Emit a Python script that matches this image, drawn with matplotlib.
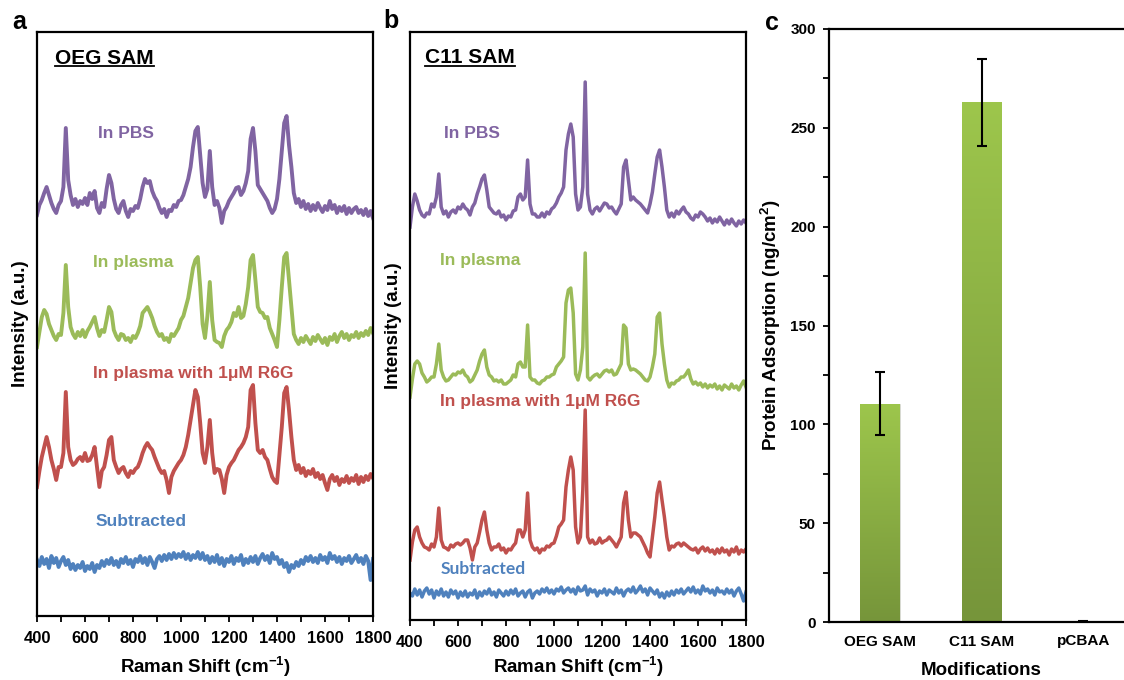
import numpy as np
import matplotlib
matplotlib.use('Agg')
import matplotlib.pyplot as plt
from matplotlib.ticker import MultipleLocator, NullLocator
from matplotlib.lines import Line2D
from matplotlib.colors import LinearSegmentedColormap

plt.rcParams['font.family'] = ['Liberation Sans', 'DejaVu Sans']
plt.rcParams['font.weight'] = 'bold'
plt.rcParams['mathtext.fontset'] = 'custom'
plt.rcParams['mathtext.rm'] = 'Liberation Sans:bold'
plt.rcParams['mathtext.it'] = 'Liberation Sans:bold'
plt.rcParams['mathtext.bf'] = 'Liberation Sans:bold'
plt.rcParams['mathtext.default'] = 'rm'

# ---------------- data ----------------
wavenumber_start, wavenumber_stop, wavenumber_step = 400, 1800, 10

# Panel a (OEG SAM), heights above each trace's baseline (a.u.)
oeg_pbs = [
    -2, 8, 13, 20, 26, 18, 10, 4, 0, 8,
    12, 26, 85, 33, 18, 8, 14, 6, 12, 9,
    15, 8, 20, 14, 22, 5, 0, 10, 6, 24,
    38, 30, 14, 4, 0, 8, 12, 2, -4, 4,
    2, 7, 5, 14, 26, 34, 30, 32, 22, 16,
    12, 5, 0, 4, -4, 3, 2, 8, 6, 12,
    13, 18, 26, 34, 46, 66, 82, 86, 58, 30,
    16, 24, 62, 26, 8, 12, 5, -10, 2, 6,
    12, 16, 20, 25, 26, 18, 22, 30, 42, 74,
    85, 62, 28, 24, 20, 16, 12, 5, 0, 4,
    14, 34, 62, 90, 97, 68, 46, 20, 10, 14,
    6, 12, 4, 9, 2, 8, 3, 10, 5, 1,
    7, 3, 12, 4, 8, 0, 6, 2, 7, -1,
    5, 0, 4, 6, 0, 3, -2, 4, -3, 2,
    -5]
oeg_plasma = [
    -7, 8, 23, 30, 26, 16, 10, 4, 0, 6,
    5, 27, 75, 33, 13, 6, 2, 8, 4, 10,
    3, 9, 13, 18, 23, 12, 4, 10, 8, 20,
    33, 28, 10, 4, 0, 6, 5, 0, 2, -2,
    4, 2, 7, 14, 27, 30, 33, 28, 22, 14,
    8, 4, 6, 0, 2, -2, 6, 4, 8, 12,
    20, 24, 33, 42, 57, 72, 80, 83, 53, 16,
    2, 24, 58, 20, 0, -2, -3, -7, 4, 10,
    13, 18, 27, 24, 33, 22, 24, 36, 53, 80,
    85, 60, 33, 28, 27, 22, 23, 12, 6, 0,
    -7, 20, 53, 83, 87, 60, 33, 6, 0, -4,
    2, -2, 4, 0, -4, 3, -1, 5, 1, -3,
    2, -5, 3, 0, 6, -2, 4, 8, 2, 6,
    0, 5, 3, 8, 2, 7, 4, 9, 5, 12,
    7]
oeg_r6g = [
    -14, 2, 16, 26, 36, 26, 13, 4, -7, 6,
    6, 20, 81, 26, 13, 8, 10, 14, 16, 12,
    20, 12, 13, 18, 26, 6, -14, 2, 6, 18,
    33, 36, 13, 6, 0, 4, 6, 0, -4, 2,
    0, 4, 6, 12, 20, 26, 30, 26, 23, 16,
    10, 4, 0, 2, -7, -20, -4, 2, 6, 10,
    13, 18, 26, 38, 53, 68, 83, 76, 50, 20,
    10, 26, 53, 20, 0, 4, 3, -6, -20, -2,
    6, 10, 13, 18, 23, 26, 30, 36, 46, 83,
    88, 50, 23, 20, 23, 16, 13, 4, -4, -8,
    -10, 18, 46, 80, 86, 63, 36, 13, 3, 8,
    0, 5, -3, 2, -1, 4, -4, 0, -6, -2,
    -10, -17, -6, -2, -8, -4, -12, -6, -9, -3,
    -10, -5, -8, -2, -11, -4, -9, -3, -7, -1,
    -5]
oeg_subtracted = [
    2, -4, 5, -2, 3, -6, 6, -1, 4, -5,
    1, 5, -3, 2, -7, -2, -8, -3, -6, 0,
    -9, -4, -7, -1, -10, -3, -6, 1, -4, 2,
    -2, 4, -3, 1, -5, 3, -1, 5, -2, 2,
    -5, 3, 0, 6, -1, 4, -3, 5, 0, -6,
    3, 6, 1, 7, 2, 8, 3, 9, 4, 8,
    5, 10, 3, 8, 2, 7, 4, 10, 3, 9,
    2, 6, -1, 5, 0, 7, -2, 4, -4, 3,
    0, 6, -2, 4, 1, 7, -3, 3, -1, 5,
    0, 6, -2, 4, 8, 2, 6, -1, 9, 3,
    5, -2, 2, -5, -1, -10, -3, -6, 0, -4,
    2, -2, 5, 1, 6, 0, 4, -1, 7, 2,
    5, -1, 9, 3, 6, 0, 5, -2, 4, 1,
    6, -1, 3, 7, 0, 4, -2, 6, 1, -18,
    3]
oeg_offsets = [403, 276, 143, 54]

# Panel b (C11 SAM)
c11_pbs = [
    -10, 10, 23, 16, 7, 2, 0, 4, 3, 13,
    10, 20, 43, 10, 3, 6, 0, 5, 7, 4,
    10, 8, 13, 9, 7, 2, 10, 14, 23, 30,
    38, 42, 27, 10, 7, 4, 3, 6, 0, 2,
    -3, 1, 0, 6, 7, 20, 23, 17, 20, 57,
    13, 3, 3, 0, 0, 4, 0, 5, 3, 8,
    10, 14, 20, 24, 30, 67, 83, 93, 80, 23,
    7, 10, 30, 135, 23, 7, 3, 8, 10, 6,
    10, 14, 13, 9, 10, 6, 3, 8, 13, 50,
    57, 37, 17, 20, 17, 15, 13, 10, 7, 4,
    13, 25, 43, 60, 67, 50, 30, 7, 0, 4,
    0, 6, 3, 7, 10, 5, 3, -1, -3, 2,
    0, 5, 3, 0, -4, -1, -6, -2, -5, 0,
    -4, -8, -3, -7, -2, -6, -9, -4, -7, -3,
    -6]
c11_plasma = [
    -10, 8, 23, 26, 23, 14, 10, 5, 7, 10,
    10, 23, 43, 17, 10, 6, 7, 10, 13, 12,
    15, 14, 17, 12, 10, 5, 7, 12, 17, 26,
    33, 37, 20, 12, 10, 6, 7, 5, 7, 3,
    3, 5, 7, 12, 10, 23, 25, 20, 20, 62,
    10, 7, 7, 4, 3, 6, 7, 10, 10, 12,
    13, 20, 23, 26, 30, 84, 97, 99, 74, 13,
    7, 17, 40, 134, 10, 7, 10, 12, 13, 10,
    13, 16, 17, 15, 17, 12, 13, 18, 23, 62,
    59, 23, 17, 18, 17, 15, 13, 10, 7, 6,
    10, 20, 33, 70, 74, 43, 23, 7, 0, 4,
    3, 6, 7, 10, 10, 13, 17, 8, 3, 5,
    2, 4, 0, 3, -1, 2, 0, 3, -2, 1,
    -3, 2, 0, -2, 3, -1, 1, -3, 2, 6,
    0]
c11_r6g = [
    -10, 8, 20, 23, 13, 7, 3, 2, 0, 6,
    3, 13, 42, 10, 3, 2, 0, 5, 3, 6,
    7, 5, 7, 10, 10, 2, -10, 3, 7, 18,
    30, 38, 20, 7, 0, 3, 3, 6, 0, 2,
    -3, 1, 0, 4, 7, 20, 20, 13, 20, 57,
    10, 3, 0, 2, -3, 1, 0, 4, 3, 6,
    7, 14, 23, 26, 30, 63, 80, 93, 80, 23,
    7, 13, 60, 140, 13, 7, 10, 6, 7, 12,
    7, 9, 10, 13, 10, 7, 3, 8, 13, 47,
    58, 30, 13, 17, 17, 15, 13, 8, 3, -3,
    -7, 13, 33, 57, 68, 50, 33, 13, 0, 4,
    3, 6, 7, 4, 7, 5, 3, 1, 0, 2,
    -3, 1, 3, -1, 2, -2, 0, -4, 1, -3,
    2, -2, 0, -5, 1, -2, 3, -4, 0, -2,
    1]
c11_subtracted = [
    0, -3, 4, -2, 3, -4, 2, 5, -1, 3,
    -5, 2, -2, 4, -3, 1, -4, 3, -1, 2,
    -5, 1, -3, 2, -4, 0, -2, 3, -5, 1,
    -3, 2, -1, 4, -2, 1, -4, 3, 0, -3,
    2, -2, 3, -1, 4, -3, 0, 2, -4, 1,
    3, -5, 0, 2, -1, 4, 1, 5, 0, 3,
    -1, 4, 2, 6, 0, 3, 5, 1, 4, -1,
    6, 2, 3, 7, -2, 4, 1, 3, -3, 2,
    0, 4, -2, 3, 1, -1, 5, 0, 3, -3,
    2, 4, 1, 6, 0, 3, 7, 1, 4, -2,
    5, 2, -1, 3, -4, 0, -5, 1, -3, 2,
    -2, 3, 0, 4, -1, 2, 5, 1, 6, 0,
    3, -1, 7, 2, 4, 0, 3, -2, 5, 1,
    2, -1, 4, 0, 3, -3, 2, 5, -1, -8,
    1]
c11_offsets = [403, 233, 70, 27]

trace_labels = ['In PBS', 'In plasma', 'In plasma with 1\u03bcM R6G', 'Subtracted']
trace_colors = ['#8064a2', '#9bbb59', '#c0504d', '#4f81bd']

# Panel c
modifications = ['OEG SAM', 'C11 SAM', 'pCBAA']
adsorption = [110.5, 263, 0.4]
adsorption_err = [16, 22, 0.3]

# ---------------- figure ----------------
W, H = 1124, 680
fig = plt.figure(figsize=(W / 100, H / 100), dpi=100)


def px_axes(l, t, r, b):
    return fig.add_axes([l / W, 1 - b / H, (r - l) / W, (b - t) / H])


wn = np.arange(wavenumber_start, wavenumber_stop + 1, wavenumber_step)


def spectra_panel(ax, traces, offsets, ymax, lw, xpad):
    for vals, off, col in zip(traces, offsets, trace_colors):
        v = np.asarray(vals, dtype=float)
        assert len(v) == len(wn), len(v)
        ax.plot(wn, off + v, color=col, lw=lw, solid_joinstyle='round', zorder=2)
    ax.set_xlim(400, 1800)
    ax.set_ylim(0, ymax)
    ax.yaxis.set_major_locator(NullLocator())
    ax.xaxis.set_major_locator(MultipleLocator(200))
    ax.xaxis.set_minor_locator(MultipleLocator(100))
    ax.tick_params(axis='x', which='both', direction='out', length=4.5, width=1.3,
                   labelsize=12, pad=6)
    for lab in ax.get_xticklabels():
        lab.set_fontweight('bold')
    for s in ax.spines.values():
        s.set_linewidth(1.6)
    ax.set_xlabel('Raman Shift (cm$^{-1}$)', fontsize=13.5, fontweight='bold', labelpad=xpad)
    ax.set_ylabel('Intensity (a.u.)', fontsize=13.5, fontweight='bold', labelpad=6)


axa = px_axes(37, 32, 373, 616)
spectra_panel(axa, [oeg_pbs, oeg_plasma, oeg_r6g, oeg_subtracted], oeg_offsets, 584, 2.8, 7)
axb = px_axes(410, 32, 746, 620)
spectra_panel(axb, [c11_pbs, c11_plasma, c11_r6g, c11_subtracted], c11_offsets, 588, 2.5, 4)

# labels inside spectra panels
lab_a = [(0.265, 0.827), (0.286, 0.606), (0.466, 0.416), (0.311, 0.161)]
for (fx, fy), txt, col in zip(lab_a, trace_labels, trace_colors):
    axa.text(fx, fy, txt, transform=axa.transAxes, color=col, fontsize=12.5,
             fontweight='bold', ha='center', va='center')
lab_b = [(0.183, 0.828), (0.210, 0.612), (0.387, 0.372), (0.217, 0.087)]
for i, ((fx, fy), txt, col) in enumerate(zip(lab_b, trace_labels, trace_colors)):
    kw = dict(family=['Lato', 'DejaVu Sans'], fontsize=12.5) if i == 3 else dict(fontsize=12.5)
    axb.text(fx, fy, txt, transform=axb.transAxes, color=col,
             fontweight='bold', ha='center', va='center', **kw)

ta = axa.text(0.054, 0.955, 'OEG SAM', transform=axa.transAxes, fontsize=15,
              fontweight='bold', ha='left', va='center')
tb = axb.text(0.045, 0.956, 'C11 SAM', transform=axb.transAxes, fontsize=15,
              fontweight='bold', ha='left', va='center')

# ---------------- panel c ----------------
axc = px_axes(829, 29, 1134, 622)
xpos = np.arange(len(modifications))
bars = axc.bar(xpos, adsorption, width=0.39, color='#8aad44', zorder=2,
               edgecolor='#dcdcdc', linewidth=0.6)
cmap = LinearSegmentedColormap.from_list('g', ['#76953a', '#9dc64c'])
grad = np.linspace(0, 1, 256).reshape(-1, 1)
for bar in bars:
    x0, w, h = bar.get_x(), bar.get_width(), bar.get_height()
    if h <= 0:
        continue
    im = axc.imshow(grad, extent=(x0, x0 + w, 0, h), origin='lower', aspect='auto',
                    cmap=cmap, zorder=2.5, interpolation='bilinear')
    im.set_clip_path(bar)
axc.errorbar(xpos, adsorption, yerr=adsorption_err, fmt='none', ecolor='black',
             elinewidth=1.5, capsize=3.5, capthick=1.5, zorder=3)
axc.set_xlim(-0.5, 2.5)
axc.set_ylim(0, 300)
axc.set_aspect('auto')
axc.set_xticks(xpos)
axc.set_xticklabels(modifications, fontsize=11, fontweight='bold')
axc.yaxis.set_major_locator(MultipleLocator(50))
axc.yaxis.set_minor_locator(MultipleLocator(25))
axc.tick_params(axis='y', which='both', direction='out', length=4.5, width=1.3,
                labelsize=11, pad=5)
axc.tick_params(axis='x', length=0, pad=9)
for lab in axc.get_yticklabels():
    lab.set_fontweight('bold')
axc.spines['right'].set_visible(False)
for s in ['left', 'bottom', 'top']:
    axc.spines[s].set_linewidth(1.6)
axc.set_xlabel('Modifications', fontsize=13.5, fontweight='bold', labelpad=10)
axc.set_ylabel('Protein Adsorption (ng/cm$^{2}$)', fontsize=13.5, fontweight='bold', labelpad=5)

# panel letters
fig.text(19 / W, 1 - 22 / H, 'a', fontsize=18, fontweight='bold', ha='center', va='center')
fig.text(391 / W, 1 - 21 / H, 'b', fontsize=18, fontweight='bold', ha='center', va='center')
fig.text(772 / W, 1 - 23 / H, 'c', fontsize=18, fontweight='bold', ha='center', va='center')

# underline panel titles
fig.canvas.draw()
r = fig.canvas.get_renderer()
for t in (ta, tb):
    bb = t.get_window_extent(r)
    yl = bb.y0 + 1.5
    fig.add_artist(Line2D([bb.x0 / W, bb.x1 / W], [yl / H, yl / H], color='black',
                          lw=1.3, transform=fig.transFigure))

fig.savefig('out.png', dpi=100)
